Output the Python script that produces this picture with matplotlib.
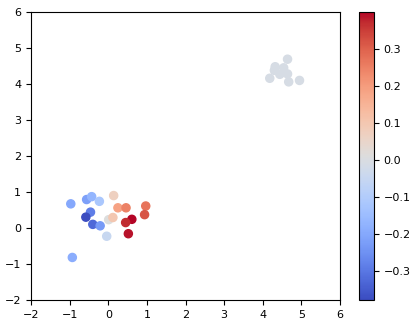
import matplotlib
matplotlib.use("Agg")
import matplotlib.pyplot as plt
import numpy as np

x = [-0.97, -0.56, -0.43, -0.23, 0.14, -0.46, -0.58, -0.40, -0.21, -0.04,
     0.01, 0.12, 0.25, 0.46, 0.97, 0.94, 0.61, 0.45, 0.52, -0.93,
     4.64, 4.32, 4.54, 4.30, 4.44, 4.64, 4.18, 4.67, 4.95]
y = [0.67, 0.79, 0.87, 0.74, 0.90, 0.44, 0.30, 0.10, 0.06, -0.23,
     0.23, 0.29, 0.56, 0.56, 0.61, 0.37, 0.24, 0.15, -0.16, -0.82,
     4.69, 4.48, 4.45, 4.38, 4.27, 4.28, 4.16, 4.06, 4.10]
c = [-0.20, -0.22, -0.17, -0.12, 0.07, -0.29, -0.379, -0.33, -0.23, -0.05,
     0.01, 0.10, 0.19, 0.25, 0.27, 0.32, 0.400, 0.37, 0.39, -0.19,
     -0.01, -0.01, -0.01, -0.01, -0.01, -0.01, -0.01, -0.01, -0.01]

fig = plt.figure(figsize=(4.16, 3.26), dpi=100)
ax = fig.add_axes([0.0745, 0.08, 0.743, 0.883])
cax = fig.add_axes([0.863, 0.08, 0.036, 0.883])
sc = ax.scatter(x, y, c=c, cmap='coolwarm', s=34, vmin=-0.379, vmax=0.400)
ax.set_xlim(-2, 6)
ax.set_ylim(-2, 6)
ax.set_xticks(range(-2, 7))
ax.set_yticks(range(-2, 7))
ax.tick_params(labelsize=8)
cb = fig.colorbar(sc, cax=cax)
cb.set_ticks([-0.3, -0.2, -0.1, 0.0, 0.1, 0.2, 0.3])
cb.ax.tick_params(labelsize=8)
fig.savefig("out.png", dpi=100)
